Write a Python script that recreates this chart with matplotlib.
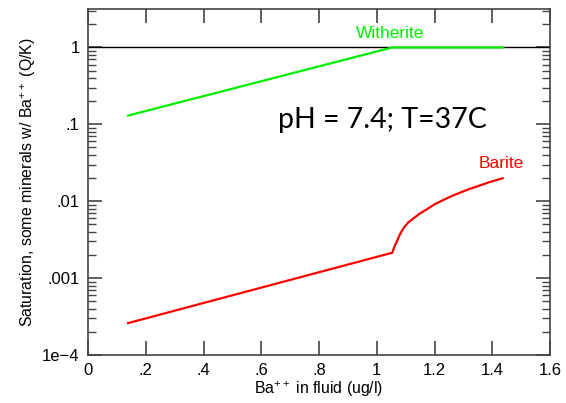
import numpy as np
import matplotlib.pyplot as plt
from matplotlib.ticker import FixedLocator, LogLocator, NullFormatter

# Witherite saturation (green)
witherite_x = [0.139, 1.054, 1.438]
witherite_y = [0.13, 1.0, 1.0]

# Barite saturation (red)
barite_x = [0.139, 1.054, 1.060, 1.069, 1.080, 1.092, 1.108, 1.127, 1.150, 1.173,
            1.200, 1.231, 1.260, 1.288, 1.316, 1.346, 1.390, 1.436]
barite_y = [2.6e-4, 2.14e-3, 2.5e-3, 2.97e-3, 3.7e-3, 4.44e-3, 5.25e-3, 5.98e-3, 6.95e-3, 7.83e-3,
            9.1e-3, 0.0104, 0.0117, 0.0129, 0.0142, 0.0155, 0.0177, 0.0199]

x_ticks = [0, 0.2, 0.4, 0.6, 0.8, 1.0, 1.2, 1.4, 1.6]
x_labels = ['0', '.2', '.4', '.6', '.8', '1', '1.2', '1.4', '1.6']
y_ticks = [1e-4, 1e-3, 1e-2, 1e-1, 1]
y_labels = ['1e\u22124', '.001', '.01', '.1', '1']

plt.rcParams['font.family'] = ['Liberation Sans', 'DejaVu Sans']
plt.rcParams['mathtext.fontset'] = 'custom'
plt.rcParams['mathtext.rm'] = 'Liberation Sans'

fig = plt.figure(figsize=(5.66, 4.03), dpi=100)
ax = fig.add_axes([88/566, 1 - 355/403, (550-88)/566, (355-9)/403])

ax.axhline(1.0, color='black', lw=1.0)
ax.plot(witherite_x, witherite_y, color='#00ee00', lw=1.6)
ax.plot(barite_x, barite_y, color='#ff0000', lw=1.6)

ax.set_yscale('log')
ax.set_xlim(0, 1.6)
ax.set_ylim(1e-4, 10**0.5)

ax.xaxis.set_major_locator(FixedLocator(x_ticks))
ax.set_xticklabels(x_labels)
ax.yaxis.set_major_locator(FixedLocator(y_ticks))
ax.set_yticklabels(y_labels)
ax.yaxis.set_minor_locator(LogLocator(base=10, subs=np.arange(2, 10), numticks=20))
ax.yaxis.set_minor_formatter(NullFormatter())

ax.tick_params(which='both', direction='in', top=True, right=True, labelsize=12,
               color='#444444', pad=6)
ax.tick_params(which='major', length=10, width=1.2)
ax.tick_params(which='minor', length=6, width=1.0)
for s in ax.spines.values():
    s.set_color('#444444')
    s.set_linewidth(1.2)

ax.set_xlabel(r'Ba$^{\mathrm{++}}$ in fluid (ug/l)', fontsize=11.4, labelpad=1)
ax.set_ylabel(r'Saturation, some minerals w/ Ba$^{\mathrm{++}}$ (Q/K)', fontsize=11.4, labelpad=3)

ax.text(1.045, 1.22, 'Witherite', color='#00ee00', fontsize=12.5, ha='center', va='bottom')
ax.text(1.43, 0.025, 'Barite', color='#ff0000', fontsize=12.5, ha='center', va='bottom')
ax.text(1.02, 0.115, 'pH = 7.4; T=37C', fontsize=20.5, family=['Lato', 'DejaVu Sans'],
        ha='center', va='center')

fig.savefig('out.png', dpi=100)
